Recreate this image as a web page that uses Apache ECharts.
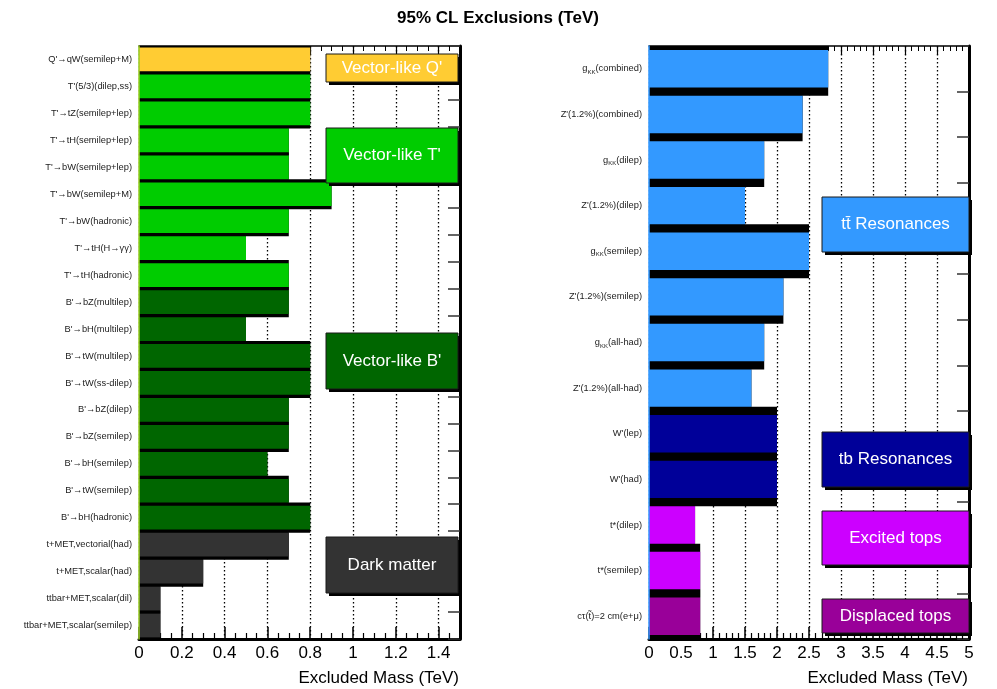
<!DOCTYPE html>
<html>
<head>
<meta charset="utf-8">
<script src="https://cdn.jsdelivr.net/npm/echarts@6/dist/echarts.min.js"></script>
<style>
  html, body { margin: 0; padding: 0; background: #fff; }
  #chart { width: 997px; height: 689px; }
</style>
</head>
<body>
<div id="chart"></div>
<script>
// Vector-like quark and dark matter searches (left panel)
const vlqCategories = [
  "Q'→qW(semilep+M)", "T'(5/3)(dilep,ss)", "T'→tZ(semilep+lep)", "T'→tH(semilep+lep)",
  "T'→bW(semilep+lep)", "T'→bW(semilep+M)", "T'→bW(hadronic)", "T'→tH(H→γγ)",
  "T'→tH(hadronic)", "B'→bZ(multilep)", "B'→bH(multilep)", "B'→tW(multilep)",
  "B'→tW(ss-dilep)", "B'→bZ(dilep)", "B'→bZ(semilep)", "B'→bH(semilep)",
  "B'→tW(semilep)", "B'→bH(hadronic)", "t+MET,vectorial(had)", "t+MET,scalar(had)",
  "ttbar+MET,scalar(dil)", "ttbar+MET,scalar(semilep)"
];
const vlqValues = [0.8, 0.8, 0.8, 0.7, 0.7, 0.9, 0.7, 0.5, 0.7, 0.7, 0.5, 0.8,
                   0.8, 0.7, 0.7, 0.6, 0.7, 0.8, 0.7, 0.3, 0.1, 0.1];
const vlqGroups = ['Q', 'T', 'T', 'T', 'T', 'T', 'T', 'T', 'T', 'B', 'B', 'B',
                   'B', 'B', 'B', 'B', 'B', 'B', 'DM', 'DM', 'DM', 'DM'];

// Resonance and excited-top searches (right panel)
const resCategories = [
  'g_KK(combined)', "Z'(1.2%)(combined)", 'g_KK(dilep)', "Z'(1.2%)(dilep)",
  'g_KK(semilep)', "Z'(1.2%)(semilep)", 'g_KK(all-had)', "Z'(1.2%)(all-had)",
  "W'(lep)", "W'(had)", 't*(dilep)', 't*(semilep)', 'cτ(t\u0303)=2 cm(e+μ)'
];
const resValues = [2.8, 2.4, 1.8, 1.5, 2.5, 2.1, 1.8, 1.6, 2.0, 2.0, 0.72, 0.8, 0.8];
const resGroups = ['tt', 'tt', 'tt', 'tt', 'tt', 'tt', 'tt', 'tt', 'tb', 'tb', 'ex', 'ex', 'disp'];

// Axis ticks
const vlqTicks = { min: 0, max: 1.5, step: 0.2 };
const resTicks = { min: 0, max: 5, step: 0.5 };

// Group names shown in the boxes
const groupNames = {
  Q: "Vector-like Q'", T: "Vector-like T'", B: "Vector-like B'", DM: 'Dark matter',
  tt: 'tt\u0304 Resonances', tb: 'tb Resonances', ex: 'Excited tops', disp: 'Displaced tops'
};

const groupColors = {
  Q: '#ffcc33', T: '#00cc00', B: '#006600', DM: '#333333',
  tt: '#3399ff', tb: '#000099', ex: '#cc00ff', disp: '#990099'
};

const FONT = 'Liberation Sans, Arial, Helvetica, sans-serif';

// Each bar: a black backing that spills into the gap above and below,
// then the coloured bar on top.
function barRenderer(fillRatio, layer, groups) {
  return function (params, api) {
    const val = api.value(0);
    const idx = api.value(1);
    const p0 = api.coord([0, idx]);
    const p1 = api.coord([val, idx]);
    const band = api.size([0, 1])[1];
    const h = band * fillRatio;
    const g = band - h;
    const cs = params.coordSys;
    let top = p0[1] - h / 2;
    let bottom = p0[1] + h / 2;
    if (layer === 'back') { top -= g; bottom += g; }
    top = Math.max(top, cs.y);
    bottom = Math.min(bottom, cs.y + cs.height);
    return {
      type: 'rect',
      shape: { x: p0[0], y: top, width: p1[0] - p0[0], height: bottom - top },
      style: { fill: layer === 'back' ? '#000' : groupColors[groups[idx]] }
    };
  };
}

function seriesPair(values, groups, axisIndex, fillRatio) {
  const data = values.map((v, i) => [v, i]);
  return [
    { type: 'custom', xAxisIndex: axisIndex * 2, yAxisIndex: axisIndex * 2, z: 2,
      renderItem: barRenderer(fillRatio, 'back', groups), encode: { x: 0, y: 1 }, data: data, silent: true },
    { type: 'custom', xAxisIndex: axisIndex * 2, yAxisIndex: axisIndex * 2, z: 3,
      renderItem: barRenderer(fillRatio, 'front', groups), encode: { x: 0, y: 1 }, data: data, silent: true }
  ];
}

function bottomAxis(gridIndex, ticks, minorSplit, hideMax) {
  return {
    type: 'value', gridIndex: gridIndex, position: 'bottom',
    min: ticks.min, max: ticks.max, interval: ticks.step,
    axisLine: { show: true, onZero: false, lineStyle: { color: '#000', width: 3 } },
    axisTick: { show: true, inside: true, length: 12, lineStyle: { color: '#000', width: 1.5 } },
    minorTick: { show: true, splitNumber: minorSplit, length: 6, lineStyle: { color: '#000', width: 1.2 } },
    axisLabel: { show: true, fontFamily: FONT, fontSize: 17, color: '#000', margin: 6,
                 showMaxLabel: !hideMax, formatter: v => String(+v.toFixed(2)) },
    splitLine: { show: true, lineStyle: { color: '#000', width: 1.3, type: [1.5, 2.5] } }
  };
}

function topAxis(gridIndex, ticks, minorSplit) {
  return {
    type: 'value', gridIndex: gridIndex, position: 'top',
    min: ticks.min, max: ticks.max, interval: ticks.step,
    axisLine: { show: true, onZero: false, lineStyle: { color: '#000', width: 1.5 } },
    axisTick: { show: true, inside: true, length: 9, lineStyle: { color: '#000', width: 1.2 } },
    minorTick: { show: true, splitNumber: minorSplit, length: 5, lineStyle: { color: '#000', width: 1 } },
    axisLabel: { show: false },
    splitLine: { show: false }
  };
}

function leftAxis(gridIndex, cats, lineColor) {
  return {
    type: 'category', gridIndex: gridIndex, position: 'left', inverse: true, data: cats, z: 10,
    axisLine: { show: true, onZero: false, lineStyle: { color: lineColor, width: 1.5 } },
    axisTick: { show: false },
    axisLabel: {
      fontFamily: FONT, fontSize: 9.3, color: '#222', margin: 7,
      formatter: v => v.replace('g_KK', 'g{sub|KK}'),
      rich: { sub: { fontFamily: FONT, fontSize: 6, color: '#222', padding: [7, 0, 0, 0] } }
    },
    splitLine: { show: false }
  };
}

function rightAxis(gridIndex, cats) {
  return {
    type: 'category', gridIndex: gridIndex, position: 'right', inverse: true, data: cats,
    axisLine: { show: true, onZero: false, lineStyle: { color: '#000', width: 3 } },
    axisTick: { show: true, inside: true, length: 12, lineStyle: { color: '#333', width: 1.5 } },
    axisLabel: { show: false },
    splitLine: { show: false }
  };
}

// Labelled group boxes with a drop shadow
function groupBox(key, x, y, w, h) {
  return {
    type: 'group', x: x, y: y,
    children: [
      { type: 'rect', z: 100, shape: { x: 3, y: 3, width: w, height: h }, style: { fill: '#000' } },
      { type: 'rect', z: 101, shape: { x: 0, y: 0, width: w, height: h },
        style: { fill: groupColors[key], stroke: '#1a1a1a', lineWidth: 1 } },
      { type: 'text', z: 102, x: w / 2, y: h / 2,
        style: { text: groupNames[key], fill: '#fff', font: '17px ' + FONT,
                 align: 'center', verticalAlign: 'middle' } }
    ]
  };
}

const chart = echarts.init(document.getElementById('chart'), null, { renderer: 'canvas' });

chart.setOption({
  animation: false,
  backgroundColor: '#fff',
  grid: [
    { left: 139, top: 46, width: 321, height: 593 },
    { left: 649, top: 46, width: 320, height: 593 }
  ],
  xAxis: [
    bottomAxis(0, vlqTicks, 4, true), topAxis(0, vlqTicks, 4),
    bottomAxis(1, resTicks, 5, false), topAxis(1, resTicks, 5)
  ],
  yAxis: [
    leftAxis(0, vlqCategories, '#99cc22'), rightAxis(0, vlqCategories),
    leftAxis(1, resCategories, '#3399ff'), rightAxis(1, resCategories)
  ],
  series: [
    ...seriesPair(vlqValues, vlqGroups, 0, 0.88),
    ...seriesPair(resValues, resGroups, 1, 0.82)
  ],
  graphic: [
    { type: 'text', x: 498, y: 18, z: 100,
      style: { text: '95% CL Exclusions (TeV)', font: 'bold 17px ' + FONT, fill: '#000',
               align: 'center', verticalAlign: 'middle' } },
    { type: 'text', x: 459, y: 678, z: 100,
      style: { text: 'Excluded Mass (TeV)', font: '17px ' + FONT, fill: '#000',
               align: 'right', verticalAlign: 'middle' } },
    { type: 'text', x: 968, y: 678, z: 100,
      style: { text: 'Excluded Mass (TeV)', font: '17px ' + FONT, fill: '#000',
               align: 'right', verticalAlign: 'middle' } },
    groupBox('Q', 326, 54, 132, 28),
    groupBox('T', 326, 128, 132, 55),
    groupBox('B', 326, 333, 132, 56),
    groupBox('DM', 326, 537, 132, 56),
    groupBox('tt', 822, 197, 147, 55),
    groupBox('tb', 822, 432, 147, 55),
    groupBox('ex', 822, 511, 147, 54),
    groupBox('disp', 822, 599, 147, 34)
  ]
});
</script>
</body>
</html>
